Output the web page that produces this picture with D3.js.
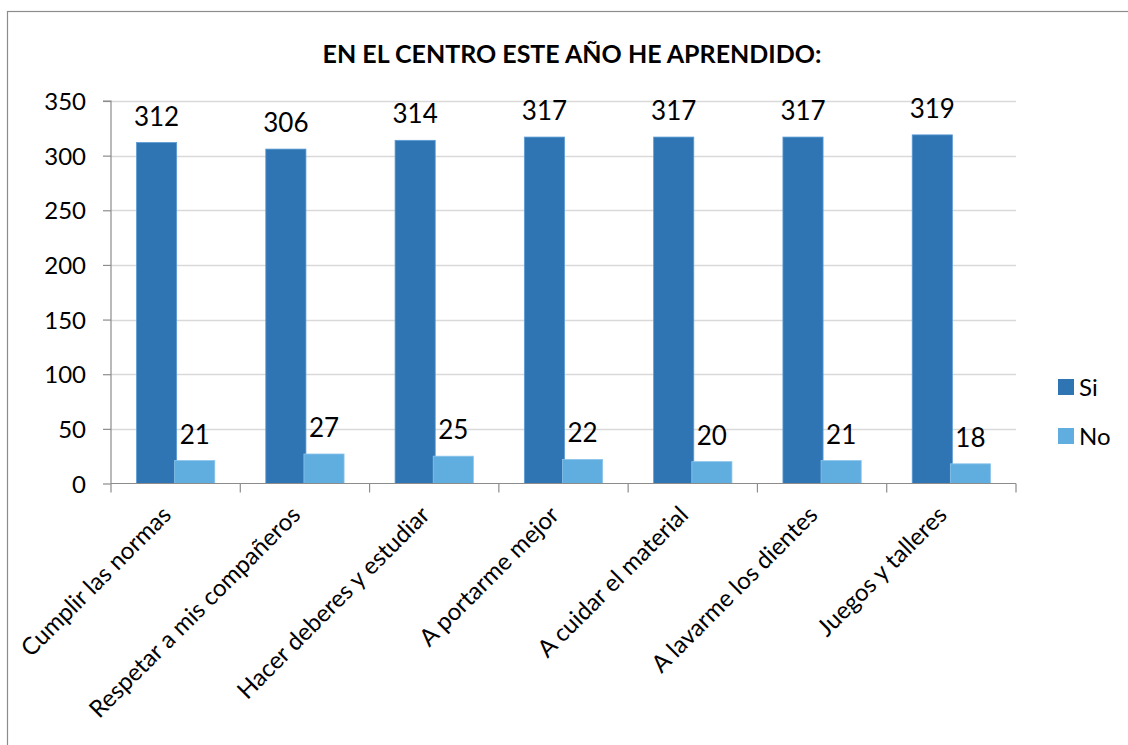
<!DOCTYPE html>
<html><head><meta charset="utf-8">
<script src="https://cdn.jsdelivr.net/npm/d3@7"></script>
<style>body{margin:0;background:#fff;} text{font-family:Lato,"Open Sans",sans-serif;}</style>
</head><body>
<svg id="c" width="1128" height="745"></svg>
<script>
const categories = ["Cumplir las normas","Respetar a mis compañeros","Hacer deberes y estudiar","A portarme mejor","A cuidar el material","A lavarme los dientes","Juegos y talleres"];
const seriesNames = ["Si","No"];
const siValues = [312,306,314,317,317,317,319];
const noValues = [21,27,25,22,20,21,18];
const yTicks = [0,50,100,150,200,250,300,350];
const title = "EN EL CENTRO ESTE AÑO HE APRENDIDO:";
const colors = {Si:"#2f75b3", No:"#60ade0"};

const svg = d3.select("#c");
svg.append("rect").attr("x",7.5).attr("y",11.5).attr("width",1130).attr("height",740)
  .attr("fill","#fff").attr("stroke","#8c8c8c").attr("stroke-width",1.2);

const L=111, R=1016, T=101, B=483.5;
const x = d3.scaleBand().domain(categories).range([L,R]).padding(0);
const y = d3.scaleLinear().domain([0,350]).range([B,T]);
const step = x.bandwidth();
const xi = d3.scaleBand().domain(seriesNames).range([step*0.205, step*0.795]).padding(0);

// gridlines
svg.append("g").selectAll("line").data(yTicks.filter(d=>d>0)).join("line")
  .attr("x1",L).attr("x2",R).attr("y1",d=>Math.round(y(d))+0.5).attr("y2",d=>Math.round(y(d))+0.5)
  .attr("stroke","#d9d9d9").attr("stroke-width",1.5);

// y axis
const ya = svg.append("g").attr("transform",`translate(${L},0)`)
  .call(d3.axisLeft(y).tickValues(yTicks).tickSize(8).tickPadding(17));
ya.select(".domain").attr("stroke","#8c8c8c").attr("stroke-width",1.2).attr("d",`M-8,${T}H0V${B}`);
ya.selectAll(".tick line").attr("stroke","#8c8c8c").attr("stroke-width",1.2);
ya.selectAll(".tick text").attr("font-size",24).attr("fill","#000").attr("font-family","Lato, sans-serif").attr("dy","0.36em");

// bars
const data = categories.map((c,i)=>({c, Si:siValues[i], No:noValues[i]}));
const g = svg.append("g");
seriesNames.forEach(s=>{
  g.selectAll("rect."+s).data(data).join("rect").attr("class",s)
    .attr("x",d=>x(d.c)+xi(s)-1).attr("width",xi.bandwidth()+2)
    .attr("y",d=>y(d[s])).attr("height",d=>B-y(d[s]))
    .attr("fill",colors[s]).attr("stroke", s==="Si"?"#5b9bd5":"#8cc4ea").attr("stroke-width",0.8);
  g.selectAll("text."+s).data(data).join("text").attr("class",s)
    .attr("x",d=>x(d.c)+xi(s)+xi.bandwidth()/2).attr("y",d=>y(d[s])-17)
    .attr("text-anchor","middle").attr("font-size",26).attr("fill","#000").text(d=>d[s]);
});

// x axis
const xa = svg.append("g").attr("transform",`translate(0,${B})`);
xa.append("line").attr("x1",L).attr("x2",R).attr("y1",0).attr("y2",0).attr("stroke","#8c8c8c").attr("stroke-width",1.2);
const bounds = categories.map(c=>x(c)).concat([R]);
xa.selectAll("line.t").data(bounds).join("line").attr("class","t")
  .attr("x1",d=>d).attr("x2",d=>d).attr("y1",0).attr("y2",9).attr("stroke","#8c8c8c").attr("stroke-width",1.2);
xa.selectAll("text").data(categories).join("text")
  .attr("transform",c=>`translate(${x(c)+step/2-3},${33}) rotate(-45)`)
  .attr("text-anchor","end").attr("font-size",24).attr("fill","#000").text(c=>c);

// title
svg.append("text").attr("x",572).attr("y",63).attr("text-anchor","middle")
  .attr("font-size",25).attr("font-weight","bold").attr("fill","#000").text(title);

// legend
const lg = svg.append("g");
seriesNames.forEach((s,i)=>{
  lg.append("rect").attr("x",1058).attr("y",379+i*49).attr("width",16).attr("height",16).attr("fill",colors[s]);
  lg.append("text").attr("x",1079).attr("y",396+i*49).attr("font-size",24).attr("fill","#000").text(s);
});
</script>
</body></html>
